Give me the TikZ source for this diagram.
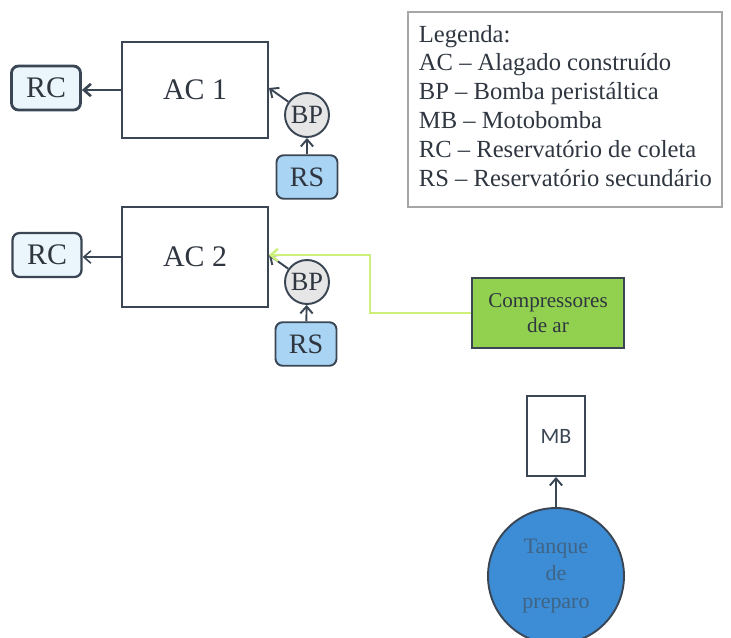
\documentclass[tikz,border=0pt]{standalone}
\usepackage{fontspec}
\setmainfont{Liberation Serif}
\newfontfamily\mbfont{Carlito}
\usetikzlibrary{arrows.meta}
\definecolor{edge}{HTML}{3B4654}
\definecolor{rcfill}{HTML}{EAF5FC}
\definecolor{rsfill}{HTML}{A9D4F3}
\definecolor{bpfill}{HTML}{E6E6E6}
\definecolor{compfill}{HTML}{92D050}
\definecolor{airline}{HTML}{CDF07C}
\definecolor{tqfill}{HTML}{3D8DD6}
\definecolor{tqtext}{HTML}{3F6485}
\definecolor{txt}{HTML}{2F3640}
\tikzset{
every picture/.style={
line width=1.1pt
},
arr/.style={-{Straight Barb[length=4pt,width=7pt]}, draw=edge},
acbox/.style={draw=edge, fill=white, minimum width=2.92cm, text=txt,
  font=\fontsize{17}{20}\selectfont},
rcbox/.style={draw=edge, line width=1.6pt, fill=rcfill, rounded corners=4pt,
  minimum width=1.38cm, minimum height=0.88cm, text=txt,
  font=\fontsize{17}{20}\selectfont},
rsbox/.style={draw=edge, fill=rsfill, rounded corners=4pt,
  minimum width=1.22cm, minimum height=0.87cm, text=txt,
  font=\fontsize{16}{18}\selectfont},
bpcirc/.style={circle, draw=edge, fill=bpfill, minimum size=0.88cm,
  inner sep=0pt, text=txt, font=\fontsize{15}{17}\selectfont}
}

\begin{document}
\begin{tikzpicture}[x=0.02cm, y=-0.02cm]
  \useasboundingbox (0,0) rectangle (731,637);

  \node[acbox, minimum height=1.92cm] (ac1) at (195,90) {AC 1};
  \node[rcbox] (rc1) at (46,88) {RC};
  \node[bpcirc] (bp1) at (307,115) {BP};
  \node[rsbox] (rs1) at (307,177) {RS};

  \node[acbox, minimum height=2.0cm] (ac2) at (195,257) {AC 2};
  \node[rcbox, line width=1.3pt] (rc2) at (47,255) {RC};
  \node[bpcirc] (bp2) at (307,282) {BP};
  \node[rsbox] (rs2) at (306,344) {RS};

  \node[draw=edge, fill=compfill, minimum width=3.04cm, minimum height=1.4cm,
    align=center, text=txt, font=\fontsize{12}{14}\selectfont]
    (comp) at (548,313) {Compressores\\de ar};
  \coordinate (bend) at (370,313);

  \node[draw=edge, fill=white, minimum width=1.16cm, minimum height=1.6cm,
    text=edge, font=\mbfont\fontsize{12.5}{14}\selectfont] (mb) at (556,436) {MB};
  \node[circle, draw=edge, fill=tqfill, minimum size=2.72cm, inner sep=0pt,
    align=center, text=tqtext, font=\fontsize{12.5}{15.5}\selectfont]
    (tq) at (556,576) {Tanque\\de\\preparo};

  \draw[gray!70, line width=0.6pt] (408,12) rectangle (722,207);
  \node[anchor=north west, align=left, text=txt, inner sep=0pt,
    font=\fontsize{14}{16.4}\selectfont] (leg) at (418,24)
    {Legenda:\\
     AC -- Alagado construído\\
     BP -- Bomba peristáltica\\
     MB -- Motobomba\\
     RC -- Reservatório de coleta\\
     RS -- Reservatório secundário};

  \draw[arr, line width=1.5pt] (ac1.west) -- (ac1.west -| rc1.east);
  \draw[arr, line width=0.9pt] (ac2.west) -- (ac2.west -| rc2.east);
  \draw[arr] (rs1) -- (bp1);
  \draw[arr] (bp1) -- ([yshift=0.04cm]ac1.east);
  \draw[arr] (rs2) -- (bp2);
  \draw[arr] (bp2) -- ([yshift=0.04cm]ac2.east);
  \draw[arr, draw=airline, line width=1.4pt] (comp.west) -- (bend) |- ([yshift=0.04cm]ac2.east);
  \draw[arr] (tq) -- (mb);
\end{tikzpicture}
\end{document}
